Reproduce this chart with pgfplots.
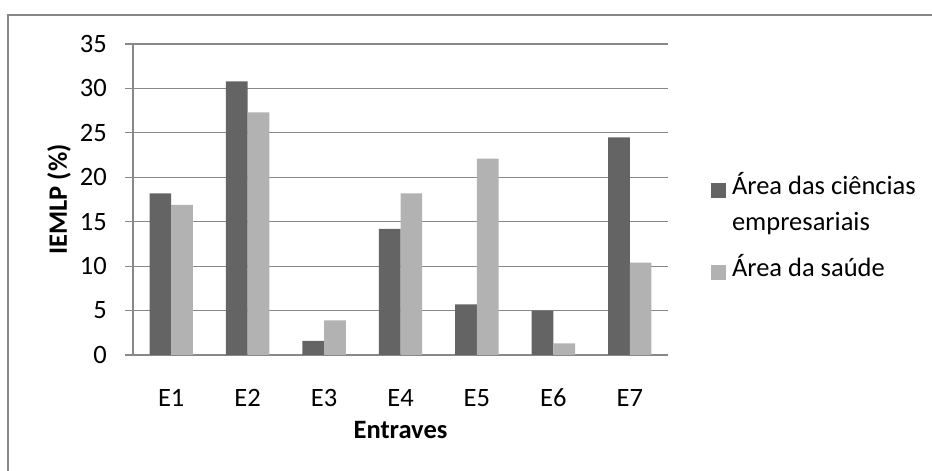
\documentclass[border=0pt]{standalone}
\usepackage{fontspec}
\setmainfont{Carlito}
\usepackage{pgfplots}
\pgfplotsset{compat=1.18}
\definecolor{darkbar}{HTML}{646464}
\definecolor{lightbar}{HTML}{B2B2B2}
\definecolor{gridc}{HTML}{888888}
\newcommand{\cf}{\fontsize{26.5bp}{32bp}\selectfont}
\begin{document}
\begin{tikzpicture}
\useasboundingbox (0,0) rectangle (932bp,471bp);
\draw[gridc, line width=1.6bp] (8bp,0) -- (8bp,456bp) -- (932bp,456bp);
\begin{axis}[
  at={(133bp,116bp)}, anchor=south west,
  scale only axis, width=535bp, height=311bp,
  ybar=0pt, bar width=21.7bp,
  xmin=0.5, xmax=7.5, ymin=0, ymax=35,
  xtick={1,2,3,4,5,6,7},
  xticklabels={E1,E2,E3,E4,E5,E6,E7},
  ytick={0,5,10,15,20,25,30,35},
  axis x line*=bottom, axis y line*=left,
  axis line style={gridc, line width=1.2bp},
  ymajorgrids, major grid style={gridc, line width=1.2bp},
  xtick style={draw=none},
  ytick style={gridc, line width=1.2bp},
  tick align=outside, major tick length=8bp,
  /pgf/number format/assume math mode=true,
  tick label style={font=\cf, inner sep=0pt},
  yticklabel style={anchor=east, xshift=-18bp},
  xticklabel style={anchor=base, yshift=-43bp},
  xlabel={\textbf{Entraves}},
  ylabel={\textbf{IEMLP (\%)}},
  xlabel style={font=\cf, inner sep=0pt, at={(axis description cs:0.5,-0.2669)}, anchor=base},
  ylabel style={font=\cf, inner sep=0pt, at={(axis description cs:-0.1234,0.5)}, anchor=base, rotate=0},
  legend style={draw=none, fill=none, font=\cf, inner sep=0pt, outer sep=0pt,
    at={(axis description cs:1.0804,0.5865)}, anchor=north west,
    nodes={inner sep=0pt, text depth={}},
    cells={anchor=base west},
    column sep=6bp, row sep=14bp},
  legend image code/.code={\fill[#1] (0bp,-3bp) rectangle (15bp,12bp);},
]
\addplot[fill=darkbar, draw=none] coordinates {(1,18.2) (2,30.8) (3,1.6) (4,14.2) (5,5.7) (6,5.0) (7,24.5)};
\addplot[fill=lightbar, draw=none] coordinates {(1,16.9) (2,27.3) (3,3.9) (4,18.2) (5,22.1) (6,1.3) (7,10.4)};
\addlegendentry{\begin{tabular}[t]{@{}l@{}}Área das ciências\\[4bp]empresariais\end{tabular}}
\addlegendentry{Área da saúde\strut}
\end{axis}
\end{tikzpicture}
\end{document}
